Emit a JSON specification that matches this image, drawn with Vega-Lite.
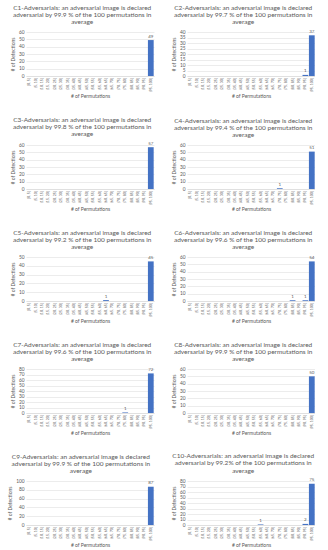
{
  "$schema": "https://vega.github.io/schema/vega-lite/v6.json",
  "padding": {"left": 7, "top": 4, "right": 0, "bottom": 0},
  "background": "white",
  "datasets": {
    "d": [
      {"p": "C1", "bin": "(95, 100]", "n": 49},
      {"p": "C2", "bin": "(90, 95]", "n": 1},
      {"p": "C2", "bin": "(95, 100]", "n": 37},
      {"p": "C3", "bin": "(95, 100]", "n": 57},
      {"p": "C4", "bin": "(70, 75]", "n": 1},
      {"p": "C4", "bin": "(95, 100]", "n": 51},
      {"p": "C5", "bin": "(60, 65]", "n": 1},
      {"p": "C5", "bin": "(95, 100]", "n": 45},
      {"p": "C6", "bin": "(80, 85]", "n": 1},
      {"p": "C6", "bin": "(90, 95]", "n": 1},
      {"p": "C6", "bin": "(95, 100]", "n": 54},
      {"p": "C7", "bin": "(75, 80]", "n": 1},
      {"p": "C7", "bin": "(95, 100]", "n": 72},
      {"p": "C8", "bin": "(95, 100]", "n": 50},
      {"p": "C9", "bin": "(95, 100]", "n": 87},
      {"p": "C10", "bin": "(55, 60]", "n": 1},
      {"p": "C10", "bin": "(90, 95]", "n": 2},
      {"p": "C10", "bin": "(95, 100]", "n": 75}
    ]
  },
  "vconcat": [
    {"hconcat": [
      {
        "title": {"text": ["C1-Adversarials: an adversarial image is declared", "adversarial by 99.9 % of the 100 permutations in", "average"]},
        "width": 128, "height": 44,
        "data": {"name": "d"},
        "transform": [{"filter": "datum.p == 'C1'"}],
        "encoding": {
          "x": {"field": "bin", "type": "nominal", "sort": null, "title": "# of Permutations", "scale": {"domain": ["[0, 5]", "(5, 10]", "(10, 15]", "(15, 20]", "(20, 25]", "(25, 30]", "(30, 35]", "(35, 40]", "(40, 45]", "(45, 50]", "(50, 55]", "(55, 60]", "(60, 65]", "(65, 70]", "(70, 75]", "(75, 80]", "(80, 85]", "(85, 90]", "(90, 95]", "(95, 100]"], "paddingInner": 0.1, "paddingOuter": 0.05}},
          "y": {"field": "n", "type": "quantitative", "title": "# of Detections", "scale": {"domain": [0, 60]}, "axis": {"values": [0, 10, 20, 30, 40, 50, 60]}}
        },
        "layer": [
          {"mark": {"type": "bar", "color": "#4472C4"}},
          {"mark": {"type": "text", "dy": -3.5, "fontSize": 4.5, "color": "#595959"}, "encoding": {"text": {"field": "n"}}}
        ]
      },
      {
        "title": {"text": ["C2-Adversarials: an adversarial image is declared", "adversarial by 99.7 % of the 100 permutations in", "average"]},
        "width": 128, "height": 44,
        "data": {"name": "d"},
        "transform": [{"filter": "datum.p == 'C2'"}],
        "encoding": {
          "x": {"field": "bin", "type": "nominal", "sort": null, "title": "# of Permutations", "scale": {"domain": ["[0, 5]", "(5, 10]", "(10, 15]", "(15, 20]", "(20, 25]", "(25, 30]", "(30, 35]", "(35, 40]", "(40, 45]", "(45, 50]", "(50, 55]", "(55, 60]", "(60, 65]", "(65, 70]", "(70, 75]", "(75, 80]", "(80, 85]", "(85, 90]", "(90, 95]", "(95, 100]"], "paddingInner": 0.1, "paddingOuter": 0.05}},
          "y": {"field": "n", "type": "quantitative", "title": "# of Detections", "scale": {"domain": [0, 40]}, "axis": {"values": [0, 5, 10, 15, 20, 25, 30, 35, 40]}}
        },
        "layer": [
          {"mark": {"type": "bar", "color": "#4472C4"}},
          {"mark": {"type": "text", "dy": -3.5, "fontSize": 4.5, "color": "#595959"}, "encoding": {"text": {"field": "n"}}}
        ]
      }
    ]},
    {"hconcat": [
      {
        "title": {"text": ["C3-Adversarials: an adversarial image is declared", "adversarial by 99.8 % of the 100 permutations in", "average"]},
        "width": 128, "height": 44,
        "data": {"name": "d"},
        "transform": [{"filter": "datum.p == 'C3'"}],
        "encoding": {
          "x": {"field": "bin", "type": "nominal", "sort": null, "title": "# of Permutations", "scale": {"domain": ["[0, 5]", "(5, 10]", "(10, 15]", "(15, 20]", "(20, 25]", "(25, 30]", "(30, 35]", "(35, 40]", "(40, 45]", "(45, 50]", "(50, 55]", "(55, 60]", "(60, 65]", "(65, 70]", "(70, 75]", "(75, 80]", "(80, 85]", "(85, 90]", "(90, 95]", "(95, 100]"], "paddingInner": 0.1, "paddingOuter": 0.05}},
          "y": {"field": "n", "type": "quantitative", "title": "# of Detections", "scale": {"domain": [0, 60]}, "axis": {"values": [0, 10, 20, 30, 40, 50, 60]}}
        },
        "layer": [
          {"mark": {"type": "bar", "color": "#4472C4"}},
          {"mark": {"type": "text", "dy": -3.5, "fontSize": 4.5, "color": "#595959"}, "encoding": {"text": {"field": "n"}}}
        ]
      },
      {
        "title": {"text": ["C4-Adversarials: an adversarial image is declared", "adversarial by 99.4 % of the 100 permutations in", "average"]},
        "width": 128, "height": 44,
        "data": {"name": "d"},
        "transform": [{"filter": "datum.p == 'C4'"}],
        "encoding": {
          "x": {"field": "bin", "type": "nominal", "sort": null, "title": "# of Permutations", "scale": {"domain": ["[0, 5]", "(5, 10]", "(10, 15]", "(15, 20]", "(20, 25]", "(25, 30]", "(30, 35]", "(35, 40]", "(40, 45]", "(45, 50]", "(50, 55]", "(55, 60]", "(60, 65]", "(65, 70]", "(70, 75]", "(75, 80]", "(80, 85]", "(85, 90]", "(90, 95]", "(95, 100]"], "paddingInner": 0.1, "paddingOuter": 0.05}},
          "y": {"field": "n", "type": "quantitative", "title": "# of Detections", "scale": {"domain": [0, 60]}, "axis": {"values": [0, 10, 20, 30, 40, 50, 60]}}
        },
        "layer": [
          {"mark": {"type": "bar", "color": "#4472C4"}},
          {"mark": {"type": "text", "dy": -3.5, "fontSize": 4.5, "color": "#595959"}, "encoding": {"text": {"field": "n"}}}
        ]
      }
    ]},
    {"hconcat": [
      {
        "title": {"text": ["C5-Adversarials: an adversarial image is declared", "adversarial by 99.2 % of the 100 permutations in", "average"]},
        "width": 128, "height": 44,
        "data": {"name": "d"},
        "transform": [{"filter": "datum.p == 'C5'"}],
        "encoding": {
          "x": {"field": "bin", "type": "nominal", "sort": null, "title": "# of Permutations", "scale": {"domain": ["[0, 5]", "(5, 10]", "(10, 15]", "(15, 20]", "(20, 25]", "(25, 30]", "(30, 35]", "(35, 40]", "(40, 45]", "(45, 50]", "(50, 55]", "(55, 60]", "(60, 65]", "(65, 70]", "(70, 75]", "(75, 80]", "(80, 85]", "(85, 90]", "(90, 95]", "(95, 100]"], "paddingInner": 0.1, "paddingOuter": 0.05}},
          "y": {"field": "n", "type": "quantitative", "title": "# of Detections", "scale": {"domain": [0, 50]}, "axis": {"values": [0, 10, 20, 30, 40, 50]}}
        },
        "layer": [
          {"mark": {"type": "bar", "color": "#4472C4"}},
          {"mark": {"type": "text", "dy": -3.5, "fontSize": 4.5, "color": "#595959"}, "encoding": {"text": {"field": "n"}}}
        ]
      },
      {
        "title": {"text": ["C6-Adversarials: an adversarial image is declared", "adversarial by 99.6 % of the 100 permutations in", "average"]},
        "width": 128, "height": 44,
        "data": {"name": "d"},
        "transform": [{"filter": "datum.p == 'C6'"}],
        "encoding": {
          "x": {"field": "bin", "type": "nominal", "sort": null, "title": "# of Permutations", "scale": {"domain": ["[0, 5]", "(5, 10]", "(10, 15]", "(15, 20]", "(20, 25]", "(25, 30]", "(30, 35]", "(35, 40]", "(40, 45]", "(45, 50]", "(50, 55]", "(55, 60]", "(60, 65]", "(65, 70]", "(70, 75]", "(75, 80]", "(80, 85]", "(85, 90]", "(90, 95]", "(95, 100]"], "paddingInner": 0.1, "paddingOuter": 0.05}},
          "y": {"field": "n", "type": "quantitative", "title": "# of Detections", "scale": {"domain": [0, 60]}, "axis": {"values": [0, 10, 20, 30, 40, 50, 60]}}
        },
        "layer": [
          {"mark": {"type": "bar", "color": "#4472C4"}},
          {"mark": {"type": "text", "dy": -3.5, "fontSize": 4.5, "color": "#595959"}, "encoding": {"text": {"field": "n"}}}
        ]
      }
    ]},
    {"hconcat": [
      {
        "title": {"text": ["C7-Adversarials: an adversarial image is declared", "adversarial by 99.6 % of the 100 permutations in", "average"]},
        "width": 128, "height": 44,
        "data": {"name": "d"},
        "transform": [{"filter": "datum.p == 'C7'"}],
        "encoding": {
          "x": {"field": "bin", "type": "nominal", "sort": null, "title": "# of Permutations", "scale": {"domain": ["[0, 5]", "(5, 10]", "(10, 15]", "(15, 20]", "(20, 25]", "(25, 30]", "(30, 35]", "(35, 40]", "(40, 45]", "(45, 50]", "(50, 55]", "(55, 60]", "(60, 65]", "(65, 70]", "(70, 75]", "(75, 80]", "(80, 85]", "(85, 90]", "(90, 95]", "(95, 100]"], "paddingInner": 0.1, "paddingOuter": 0.05}},
          "y": {"field": "n", "type": "quantitative", "title": "# of Detections", "scale": {"domain": [0, 80]}, "axis": {"values": [0, 10, 20, 30, 40, 50, 60, 70, 80]}}
        },
        "layer": [
          {"mark": {"type": "bar", "color": "#4472C4"}},
          {"mark": {"type": "text", "dy": -3.5, "fontSize": 4.5, "color": "#595959"}, "encoding": {"text": {"field": "n"}}}
        ]
      },
      {
        "title": {"text": ["C8-Adversarials: an adversarial image is declared", "adversarial by 99.9 % of the 100 permutations in", "average"]},
        "width": 128, "height": 44,
        "data": {"name": "d"},
        "transform": [{"filter": "datum.p == 'C8'"}],
        "encoding": {
          "x": {"field": "bin", "type": "nominal", "sort": null, "title": "# of Permutations", "scale": {"domain": ["[0, 5]", "(5, 10]", "(10, 15]", "(15, 20]", "(20, 25]", "(25, 30]", "(30, 35]", "(35, 40]", "(40, 45]", "(45, 50]", "(50, 55]", "(55, 60]", "(60, 65]", "(65, 70]", "(70, 75]", "(75, 80]", "(80, 85]", "(85, 90]", "(90, 95]", "(95, 100]"], "paddingInner": 0.1, "paddingOuter": 0.05}},
          "y": {"field": "n", "type": "quantitative", "title": "# of Detections", "scale": {"domain": [0, 60]}, "axis": {"values": [0, 10, 20, 30, 40, 50, 60]}}
        },
        "layer": [
          {"mark": {"type": "bar", "color": "#4472C4"}},
          {"mark": {"type": "text", "dy": -3.5, "fontSize": 4.5, "color": "#595959"}, "encoding": {"text": {"field": "n"}}}
        ]
      }
    ]},
    {"hconcat": [
      {
        "title": {"text": ["C9-Adversarials: an adversarial image is declared", "adversarial by 99.9 % of the 100 permutations in", "average"]},
        "width": 128, "height": 44,
        "data": {"name": "d"},
        "transform": [{"filter": "datum.p == 'C9'"}],
        "encoding": {
          "x": {"field": "bin", "type": "nominal", "sort": null, "title": "# of Permutations", "scale": {"domain": ["[0, 5]", "(5, 10]", "(10, 15]", "(15, 20]", "(20, 25]", "(25, 30]", "(30, 35]", "(35, 40]", "(40, 45]", "(45, 50]", "(50, 55]", "(55, 60]", "(60, 65]", "(65, 70]", "(70, 75]", "(75, 80]", "(80, 85]", "(85, 90]", "(90, 95]", "(95, 100]"], "paddingInner": 0.1, "paddingOuter": 0.05}},
          "y": {"field": "n", "type": "quantitative", "title": "# of Detections", "scale": {"domain": [0, 100]}, "axis": {"values": [0, 20, 40, 60, 80, 100]}}
        },
        "layer": [
          {"mark": {"type": "bar", "color": "#4472C4"}},
          {"mark": {"type": "text", "dy": -3.5, "fontSize": 4.5, "color": "#595959"}, "encoding": {"text": {"field": "n"}}}
        ]
      },
      {
        "title": {"text": ["C10-Adversarials: an adversarial image is declared", "adversarial by 99.2% of the 100 permutations in", "average"]},
        "width": 128, "height": 44,
        "data": {"name": "d"},
        "transform": [{"filter": "datum.p == 'C10'"}],
        "encoding": {
          "x": {"field": "bin", "type": "nominal", "sort": null, "title": "# of Permutations", "scale": {"domain": ["[0, 5]", "(5, 10]", "(10, 15]", "(15, 20]", "(20, 25]", "(25, 30]", "(30, 35]", "(35, 40]", "(40, 45]", "(45, 50]", "(50, 55]", "(55, 60]", "(60, 65]", "(65, 70]", "(70, 75]", "(75, 80]", "(80, 85]", "(85, 90]", "(90, 95]", "(95, 100]"], "paddingInner": 0.1, "paddingOuter": 0.05}},
          "y": {"field": "n", "type": "quantitative", "title": "# of Detections", "scale": {"domain": [0, 80]}, "axis": {"values": [0, 10, 20, 30, 40, 50, 60, 70, 80]}}
        },
        "layer": [
          {"mark": {"type": "bar", "color": "#4472C4"}},
          {"mark": {"type": "text", "dy": -3.5, "fontSize": 4.5, "color": "#595959"}, "encoding": {"text": {"field": "n"}}}
        ]
      }
    ]}
  ],
  "config": {
    "font": "Lato",
    "view": {"stroke": null},
    "concat": {"spacing": 17},
    "vconcat": {"spacing": 5},
    "hconcat": {"spacing": 17},
    "title": {"fontSize": 6.5, "fontWeight": "normal", "color": "#595959", "lineHeight": 7.3, "anchor": "middle", "frame": "bounds", "offset": 3},
    "axis": {"labelColor": "#595959", "titleColor": "#595959", "titleFontWeight": "normal", "ticks": false, "labelFontSize": 4.8, "titleFontSize": 5, "titleLimit": 200, "labelPadding": 2, "titlePadding": 3},
    "axisY": {"domain": false, "gridColor": "#D9D9D9", "gridWidth": 0.5},
    "axisX": {"labelAngle": -90, "domainColor": "#D9D9D9", "domainWidth": 0.6, "grid": false, "labelFontSize": 3.6, "labelPadding": 1.5, "titlePadding": 2}
  }
}
